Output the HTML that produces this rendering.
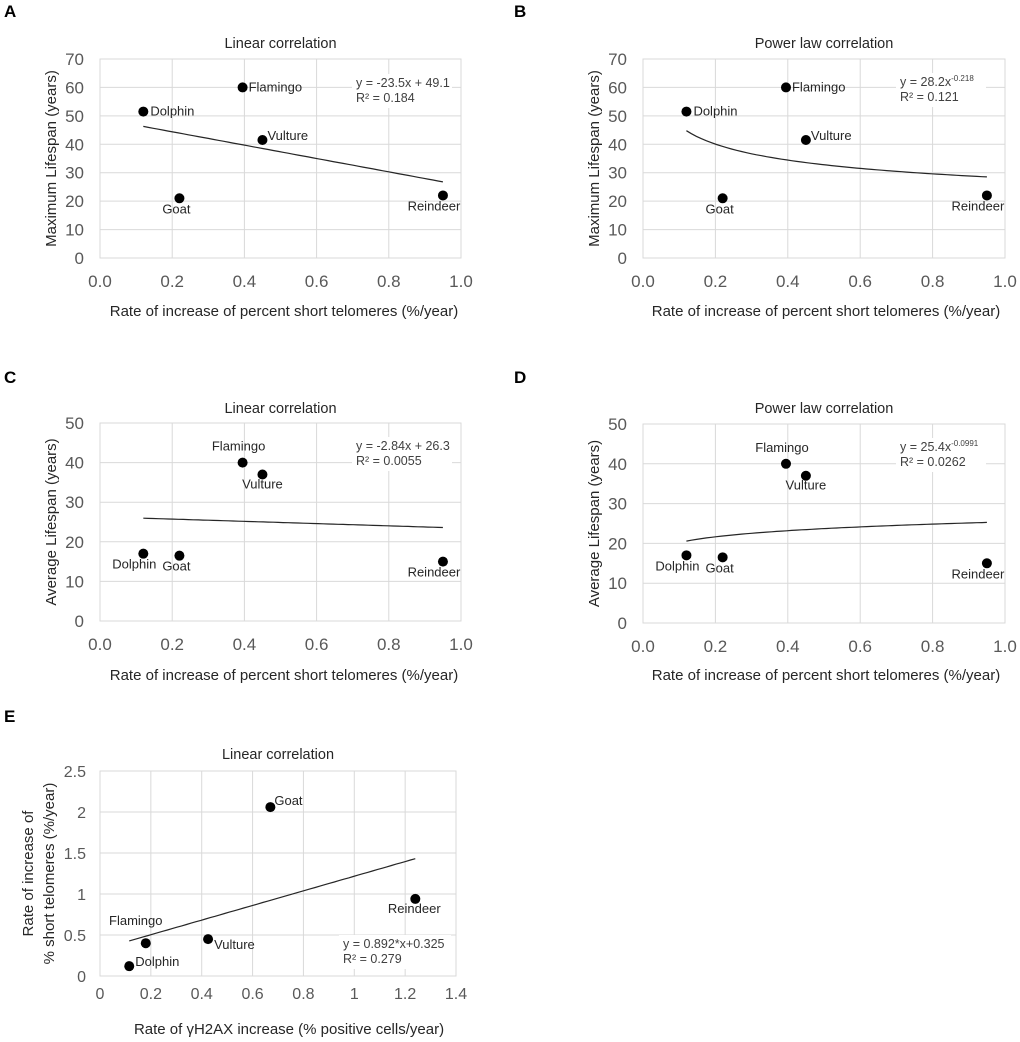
<!DOCTYPE html>
<html><head><meta charset="utf-8">
<style>
html,body{margin:0;padding:0;background:#fff;}
svg{display:block;font-family:"Liberation Sans",sans-serif;}
</style></head>
<body>
<svg id="fig" width="1020" height="1042" viewBox="0 0 1020 1042" xmlns="http://www.w3.org/2000/svg"></svg>
<script>
// ---- data ----
const speciesAB = ["Dolphin","Flamingo","Vulture","Goat","Reindeer"];
const rateShortTel = [0.12,0.395,0.45,0.22,0.95];
const maxLifespan = [51.5,60,41.5,21,22];
const avgLifespan = [17,40,37,16.5,15];
const speciesE = ["Dolphin","Flamingo","Vulture","Goat","Reindeer"];
const rateH2AX = [0.115,0.18,0.425,0.67,1.24];
const rateShortTelE = [0.12,0.4,0.45,2.06,0.94];
const xTicksAD = ["0.0","0.2","0.4","0.6","0.8","1.0"];
const yTicksAB = ["0","10","20","30","40","50","60","70"];
const yTicksCD = ["0","10","20","30","40","50"];
const xTicksE = ["0","0.2","0.4","0.6","0.8","1","1.2","1.4"];
const yTicksE = ["0","0.5","1","1.5","2","2.5"];

const NS="http://www.w3.org/2000/svg";
const svg=document.getElementById('fig');
function el(tag,attrs,parent,text){
  const e=document.createElementNS(NS,tag);
  for(const k in attrs)e.setAttribute(k,attrs[k]);
  if(text!==undefined)e.textContent=text;
  (parent||svg).appendChild(e);return e;
}
const labA={Dolphin:[7,4,"start"],Flamingo:[6,4,"start"],Vulture:[5,0,"start"],Goat:[-3,15,"middle"],Reindeer:[-9,15,"middle"]};
const labC={Dolphin:[-9,15,"middle"],Flamingo:[-4,-12,"middle"],Vulture:[0,14,"middle"],Goat:[-3,15,"middle"],Reindeer:[-9,15,"middle"]};
const labE={Dolphin:[6,0,"start"],Flamingo:[-10,-18,"middle"],Vulture:[6,10,"start"],Goat:[4,-2,"start"],Reindeer:[-1,14,"middle"]};

function panel(o){
  const g=el('g',{},svg);
  
  
  const t=el('text',{x:o.letterX,y:o.letterY,'font-size':17,'font-weight':'bold',fill:'#000'},g,o.letter);
  
  const W=o.x1-o.x0,H=o.y1-o.y0;
  const xs=v=>o.x0+(v-o.xmin)/(o.xmax-o.xmin)*W;
  const ys=v=>o.y1-(v-o.ymin)/(o.ymax-o.ymin)*H;
  o.xt.forEach(s=>{const v=parseFloat(s);
    const l=el('line',{x1:xs(v),x2:xs(v),y1:o.y0,y2:o.y1,stroke:'#d9d9d9','stroke-width':1},g);
    
    const tx=el('text',{x:xs(v),y:o.y1+o.xlabOff,'font-size':o.tickFs,'text-anchor':'middle',fill:'#595959'},g,s);
    
  });
  o.yt.forEach(s=>{const v=parseFloat(s);
    const l=el('line',{x1:o.x0,x2:o.x1,y1:ys(v),y2:ys(v),stroke:'#d9d9d9','stroke-width':1},g);
    
    const tx=el('text',{x:o.x0-o.ylabOff,y:ys(v)+6,'font-size':o.tickFs,'text-anchor':'end',fill:'#595959'},g,s);
    
  });
  const b=el('rect',{x:o.x0,y:o.y0,width:W,height:H,fill:'none',stroke:'#d9d9d9'},g);
  
  el('rect',{x:o.eqX-4,y:o.eqY-13,width:o.eqW,height:34,fill:'#fff'},g);
  const e1=el('text',{x:o.eqX,y:o.eqY,'font-size':12.5,fill:'#404040'},g);
  
  e1.appendChild(document.createTextNode(o.eq));
  if(o.eqSup){el('tspan',{'font-size':8,dy:-5},e1,o.eqSup);}
  const e2=el('text',{x:o.eqX,y:o.eqY+15,'font-size':12.5,fill:'#404040'},g,o.r2);
  
  const xa=Math.min(...o.xv),xb=Math.max(...o.xv);
  let d='';
  for(let i=0;i<=60;i++){const x=xa+(xb-xa)*i/60;d+=(i?'L':'M')+xs(x).toFixed(1)+','+ys(o.f(x)).toFixed(1);}
  const tl=el('path',{d:d,fill:'none',stroke:'#262626','stroke-width':1.2},g);
  
  o.sp.forEach((n,i)=>{
    const c=el('circle',{cx:xs(o.xv[i]),cy:ys(o.yv[i]),r:5,fill:'#000'},g);
    
    const L=o.lab[n];
    const tx=el('text',{x:xs(o.xv[i])+L[0],y:ys(o.yv[i])+L[1],'font-size':13,'text-anchor':L[2],fill:'#262626'},g,n);
    
  });
  const tt=el('text',{x:(o.x0+o.x1)/2,y:o.titleY,'font-size':14.5,'text-anchor':'middle',fill:'#262626'},g,o.title);
  
  const xl=el('text',{x:o.xTitleX,y:o.xTitleY,'font-size':15,'text-anchor':'middle',fill:'#262626'},g,o.xTitle);
  
  o.yTitle.forEach((s,k)=>{
    const yl=el('text',{x:0,y:0,'font-size':15,'text-anchor':'middle',fill:'#262626',transform:`translate(${o.yTitleX[k]},${(o.y0+o.y1)/2}) rotate(-90)`},g,s);
    
  });
}
const xTitle="Rate of increase of percent short telomeres (%/year)";
panel({name:'panel-a',letter:'A',letterX:4,letterY:17,x0:100,x1:461,y0:59,y1:258,xmin:0,xmax:1,ymin:0,ymax:70,xt:xTicksAD,yt:yTicksAB,tickFs:17,xlabOff:29,ylabOff:16,
  sp:speciesAB,xv:rateShortTel,yv:maxLifespan,lab:labA,f:x=>-23.5*x+49.1,eq:'y = -23.5x + 49.1',r2:'R² = 0.184',eqX:356,eqY:87,eqW:100,
  title:'Linear correlation',titleY:48,xTitle:xTitle,xTitleX:284,xTitleY:316,yTitle:['Maximum Lifespan (years)'],yTitleX:[56]});
panel({name:'panel-b',letter:'B',letterX:514,letterY:17,x0:643,x1:1005,y0:59,y1:258,xmin:0,xmax:1,ymin:0,ymax:70,xt:xTicksAD,yt:yTicksAB,tickFs:17,xlabOff:29,ylabOff:16,
  sp:speciesAB,xv:rateShortTel,yv:maxLifespan,lab:labA,f:x=>28.2*Math.pow(x,-0.218),eq:'y = 28.2x',eqSup:'-0.218',r2:'R² = 0.121',eqX:900,eqY:86,eqW:90,
  title:'Power law correlation',titleY:48,xTitle:xTitle,xTitleX:826,xTitleY:316,yTitle:['Maximum Lifespan (years)'],yTitleX:[599]});
panel({name:'panel-c',letter:'C',letterX:4,letterY:383,x0:100,x1:461,y0:423,y1:621,xmin:0,xmax:1,ymin:0,ymax:50,xt:xTicksAD,yt:yTicksCD,tickFs:17,xlabOff:29,ylabOff:16,
  sp:speciesAB,xv:rateShortTel,yv:avgLifespan,lab:labC,f:x=>-2.84*x+26.3,eq:'y = -2.84x + 26.3',r2:'R² = 0.0055',eqX:356,eqY:450,eqW:100,
  title:'Linear correlation',titleY:413,xTitle:xTitle,xTitleX:284,xTitleY:680,yTitle:['Average Lifespan (years)'],yTitleX:[56]});
panel({name:'panel-d',letter:'D',letterX:514,letterY:383,x0:643,x1:1005,y0:424,y1:623,xmin:0,xmax:1,ymin:0,ymax:50,xt:xTicksAD,yt:yTicksCD,tickFs:17,xlabOff:29,ylabOff:16,
  sp:speciesAB,xv:rateShortTel,yv:avgLifespan,lab:labC,f:x=>25.4*Math.pow(x,0.0991),eq:'y = 25.4x',eqSup:'-0.0991',r2:'R² = 0.0262',eqX:900,eqY:451,eqW:90,
  title:'Power law correlation',titleY:413,xTitle:xTitle,xTitleX:826,xTitleY:680,yTitle:['Average Lifespan (years)'],yTitleX:[599]});
panel({name:'panel-e',letter:'E',letterX:4,letterY:722,x0:100,x1:456,y0:771,y1:976,xmin:0,xmax:1.4,ymin:0,ymax:2.5,xt:xTicksE,yt:yTicksE,tickFs:16,xlabOff:23,ylabOff:14,
  sp:speciesE,xv:rateH2AX,yv:rateShortTelE,lab:labE,f:x=>0.892*x+0.325,eq:'y = 0.892*x+0.325',r2:'R² = 0.279',eqX:343,eqY:948,eqW:112,
  title:'Linear correlation',titleY:759,xTitle:'Rate of γH2AX increase (% positive cells/year)',xTitleX:289,xTitleY:1034,yTitle:['Rate of increase of','% short telomeres (%/year)'],yTitleX:[33,54]});
</script>
</body></html>
